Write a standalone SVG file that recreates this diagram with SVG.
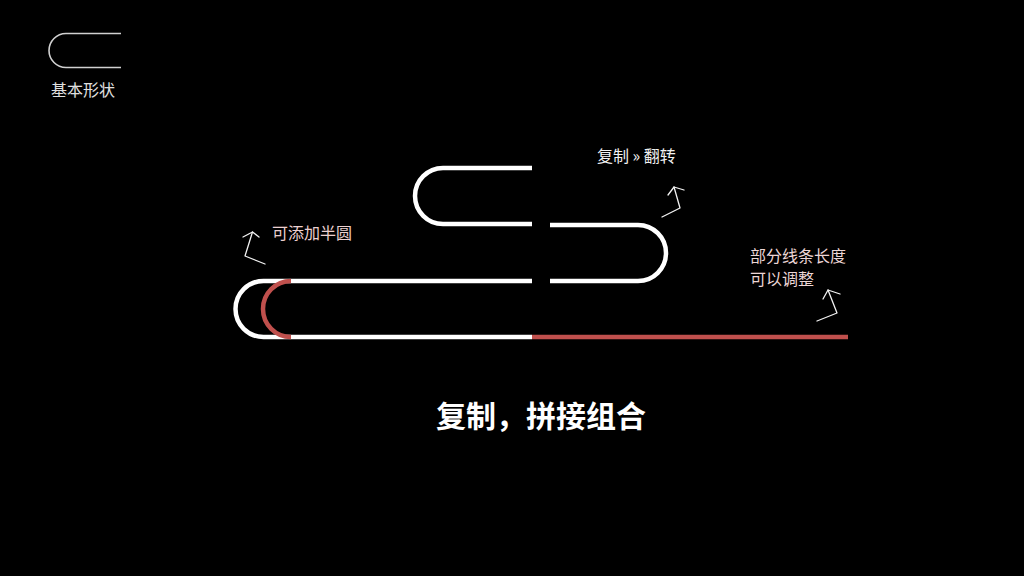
<svg xmlns="http://www.w3.org/2000/svg" width="1024" height="576" viewBox="0 0 1024 576">
<style>
.w{fill:none;stroke:#ffffff;stroke-width:4.5}
.r{fill:none;stroke:#c0504d;stroke-width:4.5}
.ar{fill:none;stroke:#f2f2f2;stroke-width:1.3;stroke-linecap:round;stroke-linejoin:round}
.t{font-family:"Microsoft YaHei","Noto Sans CJK SC",sans-serif;font-size:16px}
</style>
<rect width="1024" height="576" fill="#000"/>
<g id="icon">
<path d="M121 33.5 H66 A17 17 0 0 0 66 67.5 H121" fill="none" stroke="#d0d0d0" stroke-width="1.6"/>
<text x="51" y="96" class="t" fill="#e0e0e0">基本形状</text>
</g>
<g id="piece-bottom">
<path class="w" d="M532 281 H263.5 A28 28 0 0 0 263.5 337 H532"/>
<path class="r" d="M291 281 A28 28 0 0 0 291 337" stroke-width="5.5"/>
<path class="r" d="M532 337 H848"/>
</g>
<g id="piece-top">
<path class="w" d="M532 168 H443 A28 28 0 0 0 443 224 H532"/>
</g>
<g id="piece-right">
<path class="w" d="M550 225 H638 A28 28 0 0 1 638 281 H550"/>
</g>
<g id="labels">
<text x="272" y="239" class="t" fill="#ecd0d0">可添加半圆</text>
<text x="597" y="162" class="t" fill="#f2f2f2">复制 » 翻转</text>
<text x="750" y="262" class="t" fill="#ecd6d6">部分线条长度</text>
<text x="750" y="285" class="t" fill="#ecd6d6">可以调整</text>
<text x="541" y="427" text-anchor="middle" font-family="Microsoft YaHei,'Noto Sans CJK SC',sans-serif" font-size="30" font-weight="bold" fill="#ffffff">复制，拼接组合</text>
</g>
<g id="connectors">
<path class="ar" d="M265 264 L245 256 L252.5 232"/>
<path class="ar" d="M243 237 L252.5 232 L259 237"/>
<path class="ar" d="M662 217 L680 208 L674 187"/>
<path class="ar" d="M668 195 L674 187 L684 190"/>
<path class="ar" d="M817 321 L837 313 L828 290"/>
<path class="ar" d="M823 299 L828 290 L840 294"/>
</g>
</svg>
